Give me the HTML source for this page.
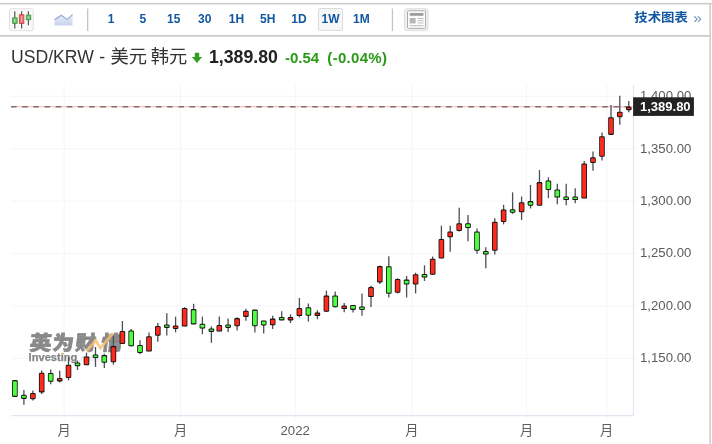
<!DOCTYPE html>
<html lang="zh-CN">
<head>
<meta charset="utf-8">
<title>USD/KRW - 美元 韩元</title>
<style>
html,body{margin:0;padding:0;background:#fff;}
body{width:712px;height:444px;overflow:hidden;position:relative;font-family:"Liberation Sans","Noto Sans CJK SC",sans-serif;}
#lines{position:absolute;left:0;top:0;}
.tf{position:absolute;top:8px;width:24.4px;height:23px;line-height:23px;text-align:center;font-size:12px;font-weight:bold;color:#1256a0;box-sizing:border-box;}
.tf.sel{background:#f7f7f7;border:1px solid #dcdcdc;border-radius:2px;line-height:21px;}
#tech{position:absolute;left:634.3px;top:6.4px;height:23px;line-height:22px;font-size:13.4px;letter-spacing:0;transform:scaleY(0.93);transform-origin:0 50%;font-weight:bold;color:#1256a0;white-space:nowrap;}
#tech i{font-style:normal;font-weight:normal;color:#6f8fc0;margin-left:5.5px;font-size:15.5px;letter-spacing:0;position:relative;top:1.2px;}
#title{position:absolute;left:11px;top:46px;height:22px;line-height:22px;font-size:17.6px;color:#333;white-space:nowrap;word-spacing:0.5px;}
#title span{font-size:18.3px;word-spacing:-1.4px;}
#price{position:absolute;left:209px;top:46px;height:22px;line-height:22px;font-size:17.7px;font-weight:bold;color:#222;white-space:nowrap;}
#chg{position:absolute;left:285px;top:47px;height:22px;line-height:22px;font-size:15px;font-weight:bold;color:#2a9a16;white-space:nowrap;}
#chg b{margin-left:4px;letter-spacing:0.3px;}
svg text{font-family:"Liberation Sans","Noto Sans CJK SC",sans-serif;}
.g{stroke:#f4f5f9;stroke-width:1;}
.w{stroke:#4a4f55;stroke-width:1.3;}
.o{fill:#141414;}
.yl{font-size:13.2px;fill:#5c5c5c;}
.xl{font-size:13.2px;fill:#5c5c5c;}
</style>
</head>
<body>
<svg id="lines" width="712" height="444" viewBox="0 0 712 444">
<!-- frame -->
<rect x="0" y="2.9" width="712" height="1.6" fill="#cfcfcf"/>
<rect x="0" y="35" width="711" height="1.8" fill="#cbcbcb"/>
<rect x="709.3" y="2.9" width="1.7" height="442" fill="#d2d2d2"/>
<!-- toolbar dividers -->
<rect x="87" y="8.5" width="1.3" height="22.5" fill="#c4c4c4"/>
<rect x="391.8" y="8.5" width="1.3" height="22.5" fill="#c4c4c4"/>
<!-- candle button -->
<rect x="9.5" y="8.7" width="23.8" height="22" rx="2" fill="#f9f9f9" stroke="#e0e0e0"/>
<g stroke="#555" stroke-width="1.2">
<line x1="14.8" y1="11.2" x2="14.8" y2="28.6"/>
<line x1="21.6" y1="11.2" x2="21.6" y2="28.6"/>
<line x1="28.4" y1="11.2" x2="28.4" y2="25.2"/>
</g>
<rect x="12.6" y="17.8" width="4.6" height="5.6" fill="#6cc06c" stroke="#3f9a3f" stroke-width="0.8"/>
<rect x="14.2" y="19" width="1.3" height="3.2" fill="#a7dba7"/>
<rect x="19.3" y="14.7" width="4.6" height="8.7" fill="#e86a6a" stroke="#c94444" stroke-width="0.8"/>
<rect x="21" y="16" width="1.3" height="6" fill="#f5a5a5"/>
<rect x="26.2" y="15.1" width="4.6" height="4.6" fill="#6cc06c" stroke="#3f9a3f" stroke-width="0.8"/>
<rect x="27.8" y="16.4" width="1.3" height="2" fill="#a7dba7"/>
<!-- area icon -->
<defs><linearGradient id="ag" x1="0" y1="0" x2="0" y2="1"><stop offset="0" stop-color="#e6ebf8"/><stop offset="1" stop-color="#c9d4ee"/></linearGradient></defs>
<path d="M54.5 19.8 L61.2 15.2 L67.2 19.4 L72.5 14.6 L72.5 25.6 L54.5 25.6 Z" fill="url(#ag)"/>
<path d="M54.5 19.8 L61.2 15.2 L67.2 19.4 L72.5 14.6" fill="none" stroke="#8fa9d6" stroke-width="1.1"/>
<!-- news button -->
<rect x="404.5" y="8.7" width="23.6" height="22" rx="2.5" fill="#efefef" stroke="#dedede"/>
<rect x="407.5" y="10.8" width="18" height="17.6" rx="1" fill="#fbfbfb" stroke="#adadad"/>
<rect x="409.8" y="13" width="13.6" height="2.8" fill="#9c9c9c"/>
<rect x="409.8" y="18" width="5.8" height="5.4" fill="#b5b5b5"/>
<rect x="417.6" y="18" width="5.8" height="1" fill="#bbb"/>
<rect x="417.6" y="20.3" width="5.8" height="1" fill="#bbb"/>
<rect x="417.6" y="22.4" width="5.8" height="1.4" fill="#d5d5d5"/>
<rect x="409.8" y="25.2" width="13.6" height="1" fill="#bbb"/>
<!-- down arrow -->
<path d="M194.8 52.8 h4.4 v4.3 h2.9 l-5.1 5.8 l-5.1 -5.8 h2.9 z" fill="#2f9e1e"/>
<!-- grid -->
<line x1="11.3" y1="96.3" x2="637" y2="96.3" class="g"/>
<line x1="11.3" y1="148.7" x2="637" y2="148.7" class="g"/>
<line x1="11.3" y1="201.1" x2="637" y2="201.1" class="g"/>
<line x1="11.3" y1="253.5" x2="637" y2="253.5" class="g"/>
<line x1="11.3" y1="305.9" x2="637" y2="305.9" class="g"/>
<line x1="11.3" y1="358.4" x2="637" y2="358.4" class="g"/>
<line x1="64.2" y1="85" x2="64.2" y2="421" class="g"/>
<line x1="180.5" y1="85" x2="180.5" y2="421" class="g"/>
<line x1="295.2" y1="85" x2="295.2" y2="421" class="g"/>
<line x1="411.8" y1="85" x2="411.8" y2="421" class="g"/>
<line x1="526.5" y1="85" x2="526.5" y2="421" class="g"/>
<line x1="606.6" y1="85" x2="606.6" y2="421" class="g"/>
<line x1="11.3" y1="415.6" x2="633.5" y2="415.6" stroke="#e1e5ef" stroke-width="1.2"/>
<line x1="633.5" y1="85" x2="633.5" y2="416" stroke="#e1e5ef" stroke-width="1.2"/>
<!-- watermark -->
<g font-family="'Liberation Sans','Noto Sans CJK SC',sans-serif">
<g font-size="20" font-weight="900" fill="#898989" stroke="#898989" stroke-width="0.7" stroke-linejoin="round" transform="skewX(-6)">
<text x="65.8" y="349.6" textLength="22" lengthAdjust="spacingAndGlyphs">英</text>
<text x="88.6" y="349.6" textLength="21.6" lengthAdjust="spacingAndGlyphs">为</text>
<text x="111.4" y="349.6" textLength="20.6" lengthAdjust="spacingAndGlyphs">财</text>
<text x="137.6" y="349.6" textLength="21.2" lengthAdjust="spacingAndGlyphs">情</text>
</g>
<path d="M86.5 351.3 L95.7 340.5 L100.4 348.2 L112.7 333.5" fill="none" stroke="#f9c074" stroke-width="2.8" stroke-linejoin="miter" opacity="0.85"/>
<text x="28.6" y="360.7" font-size="10.5" font-weight="bold" fill="#858585" stroke="#858585" stroke-width="0.25" textLength="48.8" lengthAdjust="spacingAndGlyphs">Investing</text>
<circle cx="63.4" cy="353.6" r="0.9" fill="#f8b95e"/>
<text x="78" y="360.7" font-size="9" fill="#dcdcdc" textLength="21" lengthAdjust="spacingAndGlyphs">.com</text>
</g>
<!-- last price line -->
<line x1="11.3" y1="106.8" x2="633" y2="106.8" stroke="#ffabab" stroke-width="1"/>
<line x1="11" y1="106.8" x2="633" y2="106.8" stroke="#807070" stroke-width="1.4" stroke-dasharray="5.6 5.556"/>
<!-- candles -->
<rect x="12.10" y="380.1" width="5.6" height="16.8" rx="1.2" class="o"/>
<rect x="12.95" y="381.15" width="3.9" height="14.70" rx="0.5" fill="#4cff3c"/>
<line x1="23.90" y1="390.0" x2="23.90" y2="404.7" class="w"/>
<rect x="21.10" y="394.7" width="5.6" height="4.2" rx="1.2" class="o"/>
<rect x="21.95" y="395.75" width="3.9" height="2.10" rx="0.5" fill="#4cff3c"/>
<line x1="32.90" y1="390.5" x2="32.90" y2="400.5" class="w"/>
<rect x="30.10" y="392.9" width="5.6" height="6.3" rx="1.2" class="o"/>
<rect x="30.95" y="393.95" width="3.9" height="4.20" rx="0.5" fill="#ff2a1c"/>
<line x1="41.70" y1="370.5" x2="41.70" y2="393.9" class="w"/>
<rect x="38.90" y="372.7" width="5.6" height="19.7" rx="1.2" class="o"/>
<rect x="39.75" y="373.75" width="3.9" height="17.60" rx="0.5" fill="#ff2a1c"/>
<line x1="50.70" y1="369.6" x2="50.70" y2="384.2" class="w"/>
<rect x="47.90" y="372.9" width="5.6" height="8.9" rx="1.2" class="o"/>
<rect x="48.75" y="373.95" width="3.9" height="6.80" rx="0.5" fill="#4cff3c"/>
<line x1="59.70" y1="370.7" x2="59.70" y2="382.4" class="w"/>
<rect x="56.90" y="377.9" width="5.6" height="3.5" rx="1.2" class="o"/>
<rect x="57.75" y="378.90" width="3.9" height="1.40" rx="0.5" fill="#ff2a1c"/>
<line x1="68.50" y1="357.2" x2="68.50" y2="380.4" class="w"/>
<rect x="65.70" y="364.7" width="5.6" height="13.3" rx="1.2" class="o"/>
<rect x="66.55" y="365.75" width="3.9" height="11.20" rx="0.5" fill="#ff2a1c"/>
<line x1="77.50" y1="360.6" x2="77.50" y2="370.0" class="w"/>
<rect x="74.70" y="362.5" width="5.6" height="3.8" rx="1.2" class="o"/>
<rect x="75.55" y="363.55" width="3.9" height="1.70" rx="0.5" fill="#4cff3c"/>
<line x1="86.50" y1="352.7" x2="86.50" y2="365.0" class="w"/>
<rect x="83.70" y="356.4" width="5.6" height="8.9" rx="1.2" class="o"/>
<rect x="84.55" y="357.45" width="3.9" height="6.80" rx="0.5" fill="#ff2a1c"/>
<line x1="95.50" y1="347.0" x2="95.50" y2="366.9" class="w"/>
<rect x="92.70" y="354.5" width="5.6" height="3.5" rx="1.2" class="o"/>
<rect x="93.55" y="355.60" width="3.9" height="1.40" rx="0.5" fill="#4cff3c"/>
<line x1="104.30" y1="353.8" x2="104.30" y2="368.0" class="w"/>
<rect x="101.50" y="355.1" width="5.6" height="7.6" rx="1.2" class="o"/>
<rect x="102.35" y="356.15" width="3.9" height="5.50" rx="0.5" fill="#4cff3c"/>
<line x1="113.40" y1="335.8" x2="113.40" y2="364.6" class="w"/>
<rect x="110.60" y="346.1" width="5.6" height="16.1" rx="1.2" class="o"/>
<rect x="111.45" y="347.15" width="3.9" height="14.00" rx="0.5" fill="#ff2a1c"/>
<line x1="122.40" y1="321.0" x2="122.40" y2="343.7" class="w"/>
<rect x="119.60" y="331.0" width="5.6" height="13.0" rx="1.2" class="o"/>
<rect x="120.45" y="332.05" width="3.9" height="10.90" rx="0.5" fill="#ff2a1c"/>
<line x1="131.20" y1="329.0" x2="131.20" y2="346.6" class="w"/>
<rect x="128.40" y="330.5" width="5.6" height="15.7" rx="1.2" class="o"/>
<rect x="129.25" y="331.55" width="3.9" height="13.60" rx="0.5" fill="#4cff3c"/>
<line x1="140.00" y1="340.3" x2="140.00" y2="354.3" class="w"/>
<rect x="137.20" y="344.9" width="5.6" height="8.1" rx="1.2" class="o"/>
<rect x="138.05" y="345.95" width="3.9" height="6.00" rx="0.5" fill="#4cff3c"/>
<line x1="149.00" y1="332.5" x2="149.00" y2="351.3" class="w"/>
<rect x="146.20" y="336.2" width="5.6" height="15.4" rx="1.2" class="o"/>
<rect x="147.05" y="337.25" width="3.9" height="13.30" rx="0.5" fill="#ff2a1c"/>
<line x1="157.80" y1="323.0" x2="157.80" y2="341.7" class="w"/>
<rect x="155.00" y="326.0" width="5.6" height="9.7" rx="1.2" class="o"/>
<rect x="155.85" y="327.05" width="3.9" height="7.60" rx="0.5" fill="#ff2a1c"/>
<line x1="166.80" y1="313.3" x2="166.80" y2="335.4" class="w"/>
<rect x="164.00" y="324.4" width="5.6" height="3.5" rx="1.2" class="o"/>
<rect x="164.85" y="325.40" width="3.9" height="1.40" rx="0.5" fill="#4cff3c"/>
<line x1="175.60" y1="316.6" x2="175.60" y2="332.4" class="w"/>
<rect x="172.80" y="325.5" width="5.6" height="3.5" rx="1.2" class="o"/>
<rect x="173.65" y="326.50" width="3.9" height="1.40" rx="0.5" fill="#ff2a1c"/>
<line x1="184.60" y1="307.2" x2="184.60" y2="326.3" class="w"/>
<rect x="181.80" y="308.0" width="5.6" height="18.6" rx="1.2" class="o"/>
<rect x="182.65" y="309.05" width="3.9" height="16.50" rx="0.5" fill="#ff2a1c"/>
<line x1="193.60" y1="303.8" x2="193.60" y2="324.1" class="w"/>
<rect x="190.80" y="309.1" width="5.6" height="15.3" rx="1.2" class="o"/>
<rect x="191.65" y="310.15" width="3.9" height="13.20" rx="0.5" fill="#4cff3c"/>
<line x1="202.40" y1="316.6" x2="202.40" y2="334.2" class="w"/>
<rect x="199.60" y="323.8" width="5.6" height="4.8" rx="1.2" class="o"/>
<rect x="200.45" y="324.85" width="3.9" height="2.70" rx="0.5" fill="#4cff3c"/>
<line x1="211.40" y1="326.3" x2="211.40" y2="342.8" class="w"/>
<rect x="208.60" y="328.4" width="5.6" height="3.5" rx="1.2" class="o"/>
<rect x="209.45" y="329.45" width="3.9" height="1.40" rx="0.5" fill="#4cff3c"/>
<line x1="219.30" y1="316.6" x2="219.30" y2="331.3" class="w"/>
<rect x="216.50" y="324.9" width="5.6" height="6.7" rx="1.2" class="o"/>
<rect x="217.35" y="325.95" width="3.9" height="4.60" rx="0.5" fill="#ff2a1c"/>
<line x1="228.10" y1="318.4" x2="228.10" y2="332.0" class="w"/>
<rect x="225.30" y="324.4" width="5.6" height="3.5" rx="1.2" class="o"/>
<rect x="226.15" y="325.40" width="3.9" height="1.40" rx="0.5" fill="#4cff3c"/>
<line x1="237.10" y1="317.3" x2="237.10" y2="330.4" class="w"/>
<rect x="234.30" y="318.1" width="5.6" height="8.1" rx="1.2" class="o"/>
<rect x="235.15" y="319.15" width="3.9" height="6.00" rx="0.5" fill="#ff2a1c"/>
<line x1="245.90" y1="308.8" x2="245.90" y2="320.7" class="w"/>
<rect x="243.10" y="310.7" width="5.6" height="6.2" rx="1.2" class="o"/>
<rect x="243.95" y="311.75" width="3.9" height="4.10" rx="0.5" fill="#ff2a1c"/>
<line x1="254.90" y1="309.9" x2="254.90" y2="332.4" class="w"/>
<rect x="252.10" y="309.6" width="5.6" height="16.6" rx="1.2" class="o"/>
<rect x="252.95" y="310.65" width="3.9" height="14.50" rx="0.5" fill="#4cff3c"/>
<line x1="263.70" y1="320.7" x2="263.70" y2="333.5" class="w"/>
<rect x="260.90" y="320.4" width="5.6" height="5.1" rx="1.2" class="o"/>
<rect x="261.75" y="321.45" width="3.9" height="3.00" rx="0.5" fill="#4cff3c"/>
<line x1="272.70" y1="315.7" x2="272.70" y2="329.0" class="w"/>
<rect x="269.90" y="318.6" width="5.6" height="6.7" rx="1.2" class="o"/>
<rect x="270.75" y="319.65" width="3.9" height="4.60" rx="0.5" fill="#ff2a1c"/>
<line x1="281.70" y1="311.2" x2="281.70" y2="320.0" class="w"/>
<rect x="278.90" y="316.9" width="5.6" height="3.5" rx="1.2" class="o"/>
<rect x="279.75" y="317.95" width="3.9" height="1.40" rx="0.5" fill="#4cff3c"/>
<line x1="290.50" y1="314.4" x2="290.50" y2="323.0" class="w"/>
<rect x="287.70" y="316.9" width="5.6" height="3.5" rx="1.2" class="o"/>
<rect x="288.55" y="317.95" width="3.9" height="1.40" rx="0.5" fill="#ff2a1c"/>
<line x1="299.40" y1="298.0" x2="299.40" y2="317.4" class="w"/>
<rect x="296.60" y="308.0" width="5.6" height="8.1" rx="1.2" class="o"/>
<rect x="297.45" y="309.05" width="3.9" height="6.00" rx="0.5" fill="#ff2a1c"/>
<line x1="308.40" y1="303.5" x2="308.40" y2="321.6" class="w"/>
<rect x="305.60" y="307.3" width="5.6" height="8.5" rx="1.2" class="o"/>
<rect x="306.45" y="308.35" width="3.9" height="6.40" rx="0.5" fill="#4cff3c"/>
<line x1="317.40" y1="310.3" x2="317.40" y2="319.3" class="w"/>
<rect x="314.60" y="312.6" width="5.6" height="3.5" rx="1.2" class="o"/>
<rect x="315.45" y="313.70" width="3.9" height="1.40" rx="0.5" fill="#ff2a1c"/>
<line x1="326.40" y1="290.7" x2="326.40" y2="312.0" class="w"/>
<rect x="323.60" y="295.6" width="5.6" height="16.1" rx="1.2" class="o"/>
<rect x="324.45" y="296.65" width="3.9" height="14.00" rx="0.5" fill="#ff2a1c"/>
<line x1="335.20" y1="291.4" x2="335.20" y2="307.6" class="w"/>
<rect x="332.40" y="295.4" width="5.6" height="11.8" rx="1.2" class="o"/>
<rect x="333.25" y="296.45" width="3.9" height="9.70" rx="0.5" fill="#4cff3c"/>
<line x1="344.20" y1="303.1" x2="344.20" y2="312.3" class="w"/>
<rect x="341.40" y="305.6" width="5.6" height="3.5" rx="1.2" class="o"/>
<rect x="342.25" y="306.60" width="3.9" height="1.40" rx="0.5" fill="#ff2a1c"/>
<line x1="353.00" y1="304.9" x2="353.00" y2="312.6" class="w"/>
<rect x="350.20" y="304.9" width="5.6" height="5.0" rx="1.2" class="o"/>
<rect x="351.05" y="305.95" width="3.9" height="2.90" rx="0.5" fill="#4cff3c"/>
<line x1="362.00" y1="293.4" x2="362.00" y2="315.7" class="w"/>
<rect x="359.20" y="306.4" width="5.6" height="3.5" rx="1.2" class="o"/>
<rect x="360.05" y="307.50" width="3.9" height="1.40" rx="0.5" fill="#4cff3c"/>
<line x1="371.00" y1="285.7" x2="371.00" y2="307.0" class="w"/>
<rect x="368.20" y="287.0" width="5.6" height="10.1" rx="1.2" class="o"/>
<rect x="369.05" y="288.05" width="3.9" height="8.00" rx="0.5" fill="#ff2a1c"/>
<line x1="379.80" y1="265.5" x2="379.80" y2="284.0" class="w"/>
<rect x="377.00" y="266.1" width="5.6" height="16.3" rx="1.2" class="o"/>
<rect x="377.85" y="267.15" width="3.9" height="14.20" rx="0.5" fill="#ff2a1c"/>
<line x1="388.80" y1="256.2" x2="388.80" y2="297.5" class="w"/>
<rect x="386.00" y="266.3" width="5.6" height="27.4" rx="1.2" class="o"/>
<rect x="386.85" y="267.35" width="3.9" height="25.30" rx="0.5" fill="#4cff3c"/>
<line x1="397.60" y1="278.3" x2="397.60" y2="293.4" class="w"/>
<rect x="394.80" y="278.9" width="5.6" height="13.9" rx="1.2" class="o"/>
<rect x="395.65" y="279.95" width="3.9" height="11.80" rx="0.5" fill="#ff2a1c"/>
<line x1="406.60" y1="276.0" x2="406.60" y2="297.5" class="w"/>
<rect x="403.80" y="279.6" width="5.6" height="4.9" rx="1.2" class="o"/>
<rect x="404.65" y="280.65" width="3.9" height="2.80" rx="0.5" fill="#4cff3c"/>
<line x1="415.60" y1="272.7" x2="415.60" y2="293.4" class="w"/>
<rect x="412.80" y="274.2" width="5.6" height="10.3" rx="1.2" class="o"/>
<rect x="413.65" y="275.25" width="3.9" height="8.20" rx="0.5" fill="#ff2a1c"/>
<line x1="424.50" y1="265.3" x2="424.50" y2="281.0" class="w"/>
<rect x="421.70" y="274.1" width="5.6" height="3.5" rx="1.2" class="o"/>
<rect x="422.55" y="275.10" width="3.9" height="1.40" rx="0.5" fill="#4cff3c"/>
<line x1="432.70" y1="256.4" x2="432.70" y2="275.0" class="w"/>
<rect x="429.90" y="258.7" width="5.6" height="16.1" rx="1.2" class="o"/>
<rect x="430.75" y="259.75" width="3.9" height="14.00" rx="0.5" fill="#ff2a1c"/>
<line x1="441.40" y1="225.7" x2="441.40" y2="258.2" class="w"/>
<rect x="438.60" y="239.0" width="5.6" height="19.5" rx="1.2" class="o"/>
<rect x="439.45" y="240.05" width="3.9" height="17.40" rx="0.5" fill="#ff2a1c"/>
<line x1="450.20" y1="225.7" x2="450.20" y2="251.7" class="w"/>
<rect x="447.40" y="231.5" width="5.6" height="5.8" rx="1.2" class="o"/>
<rect x="448.25" y="232.55" width="3.9" height="3.70" rx="0.5" fill="#ff2a1c"/>
<line x1="459.20" y1="207.7" x2="459.20" y2="231.4" class="w"/>
<rect x="456.40" y="223.2" width="5.6" height="7.8" rx="1.2" class="o"/>
<rect x="457.25" y="224.25" width="3.9" height="5.70" rx="0.5" fill="#ff2a1c"/>
<line x1="468.00" y1="214.9" x2="468.00" y2="241.3" class="w"/>
<rect x="465.20" y="223.2" width="5.6" height="4.9" rx="1.2" class="o"/>
<rect x="466.05" y="224.25" width="3.9" height="2.80" rx="0.5" fill="#4cff3c"/>
<line x1="477.00" y1="228.4" x2="477.00" y2="253.7" class="w"/>
<rect x="474.20" y="231.5" width="5.6" height="19.3" rx="1.2" class="o"/>
<rect x="475.05" y="232.55" width="3.9" height="17.20" rx="0.5" fill="#4cff3c"/>
<line x1="485.80" y1="247.2" x2="485.80" y2="268.3" class="w"/>
<rect x="483.00" y="251.1" width="5.6" height="3.5" rx="1.2" class="o"/>
<rect x="483.85" y="252.10" width="3.9" height="1.40" rx="0.5" fill="#4cff3c"/>
<line x1="494.80" y1="218.3" x2="494.80" y2="254.4" class="w"/>
<rect x="492.00" y="221.8" width="5.6" height="29.0" rx="1.2" class="o"/>
<rect x="492.85" y="222.85" width="3.9" height="26.90" rx="0.5" fill="#ff2a1c"/>
<line x1="503.60" y1="204.8" x2="503.60" y2="224.4" class="w"/>
<rect x="500.80" y="209.4" width="5.6" height="12.6" rx="1.2" class="o"/>
<rect x="501.65" y="210.45" width="3.9" height="10.50" rx="0.5" fill="#ff2a1c"/>
<line x1="512.60" y1="192.4" x2="512.60" y2="213.8" class="w"/>
<rect x="509.80" y="209.2" width="5.6" height="3.5" rx="1.2" class="o"/>
<rect x="510.65" y="210.25" width="3.9" height="1.40" rx="0.5" fill="#4cff3c"/>
<line x1="521.60" y1="196.5" x2="521.60" y2="220.1" class="w"/>
<rect x="518.80" y="202.2" width="5.6" height="10.1" rx="1.2" class="o"/>
<rect x="519.65" y="203.25" width="3.9" height="8.00" rx="0.5" fill="#ff2a1c"/>
<line x1="530.50" y1="184.9" x2="530.50" y2="208.5" class="w"/>
<rect x="527.70" y="201.1" width="5.6" height="4.7" rx="1.2" class="o"/>
<rect x="528.55" y="202.15" width="3.9" height="2.60" rx="0.5" fill="#4cff3c"/>
<line x1="539.50" y1="170.1" x2="539.50" y2="205.5" class="w"/>
<rect x="536.70" y="182.1" width="5.6" height="23.7" rx="1.2" class="o"/>
<rect x="537.55" y="183.15" width="3.9" height="21.60" rx="0.5" fill="#ff2a1c"/>
<line x1="548.40" y1="177.3" x2="548.40" y2="198.2" class="w"/>
<rect x="545.60" y="180.4" width="5.6" height="9.6" rx="1.2" class="o"/>
<rect x="546.45" y="181.45" width="3.9" height="7.50" rx="0.5" fill="#4cff3c"/>
<line x1="557.30" y1="183.7" x2="557.30" y2="204.2" class="w"/>
<rect x="554.50" y="189.4" width="5.6" height="8.2" rx="1.2" class="o"/>
<rect x="555.35" y="190.45" width="3.9" height="6.10" rx="0.5" fill="#4cff3c"/>
<line x1="566.20" y1="183.7" x2="566.20" y2="205.3" class="w"/>
<rect x="563.40" y="196.6" width="5.6" height="3.5" rx="1.2" class="o"/>
<rect x="564.25" y="197.60" width="3.9" height="1.40" rx="0.5" fill="#4cff3c"/>
<line x1="575.20" y1="188.2" x2="575.20" y2="203.2" class="w"/>
<rect x="572.40" y="196.6" width="5.6" height="3.5" rx="1.2" class="o"/>
<rect x="573.25" y="197.60" width="3.9" height="1.40" rx="0.5" fill="#4cff3c"/>
<line x1="584.20" y1="161.1" x2="584.20" y2="198.3" class="w"/>
<rect x="581.40" y="163.5" width="5.6" height="35.1" rx="1.2" class="o"/>
<rect x="582.25" y="164.55" width="3.9" height="33.00" rx="0.5" fill="#ff2a1c"/>
<line x1="593.00" y1="151.4" x2="593.00" y2="170.8" class="w"/>
<rect x="590.20" y="157.2" width="5.6" height="5.8" rx="1.2" class="o"/>
<rect x="591.05" y="158.25" width="3.9" height="3.70" rx="0.5" fill="#ff2a1c"/>
<line x1="602.00" y1="132.5" x2="602.00" y2="160.4" class="w"/>
<rect x="599.20" y="136.3" width="5.6" height="20.5" rx="1.2" class="o"/>
<rect x="600.05" y="137.35" width="3.9" height="18.40" rx="0.5" fill="#ff2a1c"/>
<line x1="611.00" y1="105.1" x2="611.00" y2="134.6" class="w"/>
<rect x="608.20" y="117.3" width="5.6" height="17.6" rx="1.2" class="o"/>
<rect x="609.05" y="118.35" width="3.9" height="15.50" rx="0.5" fill="#ff2a1c"/>
<line x1="619.80" y1="95.7" x2="619.80" y2="124.7" class="w"/>
<rect x="617.00" y="111.7" width="5.6" height="5.6" rx="1.2" class="o"/>
<rect x="617.85" y="112.75" width="3.9" height="3.50" rx="0.5" fill="#ff2a1c"/>
<line x1="628.80" y1="100.9" x2="628.80" y2="112.3" class="w"/>
<rect x="626.00" y="106.7" width="5.6" height="3.5" rx="1.2" class="o"/>
<rect x="626.85" y="107.70" width="3.9" height="1.40" rx="0.5" fill="#ff2a1c"/>
<!-- axis labels -->
<text x="640" y="100.2" class="yl">1,400.00</text>
<text x="640" y="152.6" class="yl">1,350.00</text>
<text x="640" y="205.0" class="yl">1,300.00</text>
<text x="640" y="257.4" class="yl">1,250.00</text>
<text x="640" y="309.8" class="yl">1,200.00</text>
<text x="640" y="362.3" class="yl">1,150.00</text>
<text x="64.2" y="434.6" class="xl" text-anchor="middle">月</text>
<text x="180.5" y="434.6" class="xl" text-anchor="middle">月</text>
<text x="295.2" y="434.6" class="xl" text-anchor="middle">2022</text>
<text x="411.8" y="434.6" class="xl" text-anchor="middle">月</text>
<text x="526.5" y="434.6" class="xl" text-anchor="middle">月</text>
<text x="606.6" y="434.6" class="xl" text-anchor="middle">月</text>
<!-- price tag -->
<rect x="633.1" y="97.3" width="60.8" height="18.6" fill="#222"/>
<text x="640" y="110.9" font-size="13" font-weight="bold" fill="#fff">1,389.80</text>
</svg>
<span class="tf" style="left:98.8px">1</span>
<span class="tf" style="left:130.6px">5</span>
<span class="tf" style="left:161.5px">15</span>
<span class="tf" style="left:192.6px">30</span>
<span class="tf" style="left:224.3px">1H</span>
<span class="tf" style="left:255.6px">5H</span>
<span class="tf" style="left:286.8px">1D</span>
<span class="tf sel" style="left:318.3px">1W</span>
<span class="tf" style="left:349.2px">1M</span>
<div id="tech">技术图表<i>»</i></div>
<div id="title">USD/KRW - <span>美元 韩元</span></div>
<div id="price">1,389.80</div>
<div id="chg">-0.54 <b>(-0.04%)</b></div>
</body>
</html>
